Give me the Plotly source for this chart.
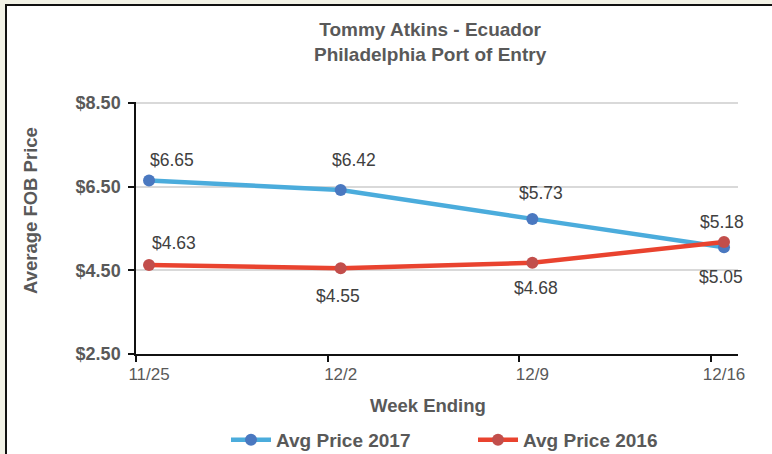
import plotly.graph_objects as go

weeks = ["11/25", "12/2", "12/9", "12/16"]
price_2017 = [6.65, 6.42, 5.73, 5.05]
price_2016 = [4.63, 4.55, 4.68, 5.18]
y_ticks = [2.50, 4.50, 6.50, 8.50]

# label offsets (pixels) — styling only
shift_2017 = [(23, 20), (13, 30), (9, 26), (-3, -30)]
shift_2016 = [(25, 22), (-3, -28), (4, -25), (-2, 20)]

xi = list(range(len(weeks)))
X_MIN, X_MAX = -0.068, 3.073

fig = go.Figure()
fig.add_trace(go.Scatter(
    x=xi, y=price_2017, name="<b>Avg Price 2017</b>", mode="lines+markers",
    line=dict(color="#4BACDC", width=4.5),
    marker=dict(color="#4A78C0", size=12, line=dict(width=0)),
))
fig.add_trace(go.Scatter(
    x=xi, y=price_2016, name="<b>Avg Price 2016</b>", mode="lines+markers",
    line=dict(color="#E9432F", width=4.5),
    marker=dict(color="#C24E4B", size=12, line=dict(width=0)),
))

FONT = "Liberation Sans, Arial"
GRAY = "#595959"

T, B = 102, 100
PH = 454 - T - B  # plot height in px
def py(p):
    return (454 - B - p) / PH

ann = []
for vals, shifts in ((price_2017, shift_2017), (price_2016, shift_2016)):
    for i, (v, (dx, dy)) in enumerate(zip(vals, shifts)):
        ann.append(dict(x=i, y=v, xref="x", yref="y", text=f"${v:.2f}",
                        showarrow=False, xshift=dx, yshift=dy,
                        font=dict(family=FONT, size=17.5, color="#404040")))

ann.append(dict(x=0.49, y=py(42.5), xref="paper", yref="paper",
                text="<b>Tommy Atkins - Ecuador</b><br><b>Philadelphia Port of Entry</b>",
                showarrow=False, xanchor="center", yanchor="middle",
                font=dict(family=FONT, size=19, color=GRAY)))
ann.append(dict(x=-0.176, y=py(211), xref="paper", yref="paper",
                text="<b>Average FOB Price</b>", textangle=-90, showarrow=False,
                xanchor="center", yanchor="middle",
                font=dict(family=FONT, size=18.5, color=GRAY)))
ann.append(dict(x=0.485, y=py(405), xref="paper", yref="paper",
                text="<b>Week Ending</b>", showarrow=False,
                xanchor="center", yanchor="middle",
                font=dict(family=FONT, size=18.5, color=GRAY)))

shapes = [dict(type="rect", xref="paper", yref="paper",
               x0=(6 - 136) / 602, x1=2.0, y0=-1.0, y1=py(5),
               fillcolor="white", line=dict(color="#111111", width=2), layer="below")]

fig.update_layout(
    width=772, height=454,
    margin=dict(l=136, r=34, t=T, b=B, autoexpand=False),
    paper_bgcolor="#F2F2E6", plot_bgcolor="white",
    font=dict(family=FONT, color=GRAY),
    showlegend=True,
    legend=dict(orientation="h", x=(226 - 136) / 602, xanchor="left", y=py(440), yanchor="middle",
                font=dict(size=19, color=GRAY, family=FONT),
                bgcolor="rgba(0,0,0,0)", itemwidth=40,
                entrywidth=192, entrywidthmode="pixels"),
    annotations=ann, shapes=shapes,
    xaxis=dict(range=[X_MIN, X_MAX], tickvals=xi, ticktext=weeks, ticks="",
               showgrid=False, zeroline=False, showline=True, linecolor="#111111", linewidth=1.5,
               tickfont=dict(size=17, color=GRAY, family=FONT), ticklabelstandoff=4,
               minor=dict(tickvals=[v + X_MIN for v in xi], ticks="outside", ticklen=6,
                          tickcolor="#111111", tickwidth=1.5, showgrid=False)),
    yaxis=dict(range=[2.5, 8.525], tickvals=y_ticks,
               ticktext=[f"<b>${v:.2f}</b>" for v in y_ticks],
               ticks="outside", ticklen=6, tickcolor="#111111", tickwidth=1.5,
               showline=True, linecolor="#111111", linewidth=1.5,
               gridcolor="#D9D9D9", gridwidth=1.5, zeroline=False,
               tickfont=dict(size=18, color=GRAY, family=FONT),
               ticklabelstandoff=4),
)

fig.write_html("out.html", config={"displayModeBar": False},
               post_script="document.body.style.margin='0';document.body.style.overflow='hidden';")
